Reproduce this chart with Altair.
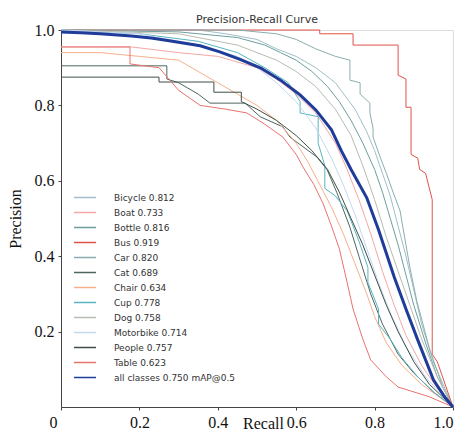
import altair as alt
import pandas as pd

labels = ["Bicycle 0.812", "Boat 0.733", "Bottle 0.816", "Bus 0.919", "Car 0.820",
          "Cat 0.689", "Chair 0.634", "Cup 0.778", "Dog 0.758", "Motorbike 0.714",
          "People 0.757", "Table 0.623", "all classes 0.750 mAP@0.5"]
colors = ["#9fbfc9", "#f2a7a7", "#6e9e9e", "#e0524a", "#8aaeb0", "#4f6660", "#f5b08c",
          "#58b4c0", "#b7bdb0", "#c4d8f0", "#3f4f48", "#e8736e", "#1f3c9a"]

bicycle_r = [0, 0.35, 0.42, 0.5, 0.55, 0.6, 0.65, 0.7, 0.75, 0.78, 0.8, 0.82, 0.84, 0.86, 0.88, 0.9, 0.92, 0.95, 1.0]
bicycle_p = [1.0, 1.0, 0.99, 0.975, 0.95, 0.93, 0.9, 0.86, 0.79, 0.73, 0.68, 0.62, 0.56, 0.48, 0.4, 0.31, 0.22, 0.12, 0.0]
boat_r = [0, 0.07, 0.18, 0.3, 0.4, 0.5, 0.55, 0.6, 0.65, 0.7, 0.73, 0.76, 0.79, 0.82, 0.85, 0.88, 0.92, 0.96, 1.0]
boat_p = [0.955, 0.955, 0.955, 0.94, 0.93, 0.9, 0.87, 0.83, 0.78, 0.7, 0.63, 0.55, 0.46, 0.36, 0.27, 0.19, 0.11, 0.05, 0.0]
bottle_r = [0, 0.3, 0.45, 0.52, 0.56, 0.6, 0.64, 0.68, 0.71, 0.74, 0.77, 0.8, 0.82, 0.84, 0.86, 0.88, 0.9, 0.93, 0.96, 1.0]
bottle_p = [1.0, 0.995, 0.98, 0.96, 0.94, 0.92, 0.89, 0.85, 0.81, 0.76, 0.7, 0.63, 0.57, 0.5, 0.43, 0.35, 0.27, 0.17, 0.08, 0.0]
bus_r = [0, 0.66, 0.66, 0.745, 0.745, 0.86, 0.86, 0.88, 0.88, 0.893, 0.893, 0.91, 0.915, 0.93, 0.947, 0.947, 0.96, 1.0]
bus_p = [1.0, 1.0, 0.99, 0.99, 0.96, 0.96, 0.88, 0.87, 0.795, 0.795, 0.67, 0.66, 0.63, 0.62, 0.55, 0.14, 0.12, 0.0]
car_r = [0, 0.45, 0.55, 0.6, 0.65, 0.7, 0.737, 0.737, 0.763, 0.763, 0.788, 0.788, 0.796, 0.796, 0.814, 0.83, 0.847, 0.865, 0.89, 0.908, 0.941, 0.974, 1.0]
car_p = [1.0, 1.0, 0.99, 0.975, 0.95, 0.93, 0.92, 0.867, 0.86, 0.83, 0.806, 0.78, 0.74, 0.716, 0.663, 0.62, 0.57, 0.52, 0.37, 0.28, 0.151, 0.053, 0.0]
cat_r = [0, 0.27, 0.27, 0.3, 0.35, 0.38, 0.47, 0.508, 0.566, 0.584, 0.653, 0.679, 0.704, 0.737, 0.76, 0.79, 0.82, 0.86, 0.9, 0.95, 1.0]
cat_p = [0.905, 0.905, 0.87, 0.86, 0.83, 0.806, 0.806, 0.77, 0.743, 0.716, 0.663, 0.629, 0.568, 0.477, 0.4, 0.3, 0.22, 0.14, 0.09, 0.04, 0.0]
chair_r = [0, 0.1, 0.2, 0.3, 0.35, 0.4, 0.45, 0.5, 0.55, 0.6, 0.63, 0.66, 0.69, 0.72, 0.75, 0.78, 0.8, 0.83, 0.87, 0.92, 1.0]
chair_p = [0.94, 0.94, 0.93, 0.92, 0.89, 0.86, 0.83, 0.8, 0.76, 0.7, 0.65, 0.59, 0.53, 0.46, 0.38, 0.3, 0.24, 0.17, 0.11, 0.06, 0.0]
cup_r = [0, 0.2, 0.35, 0.45, 0.52, 0.58, 0.61, 0.61, 0.656, 0.656, 0.673, 0.673, 0.7, 0.73, 0.76, 0.783, 0.783, 0.81, 0.81, 0.84, 0.87, 0.91, 0.95, 1.0]
cup_p = [1.0, 0.99, 0.97, 0.94, 0.9, 0.86, 0.81, 0.78, 0.77, 0.70, 0.64, 0.58, 0.56, 0.52, 0.44, 0.37, 0.33, 0.26, 0.22, 0.18, 0.13, 0.08, 0.04, 0.0]
dog_r = [0, 0.3, 0.45, 0.55, 0.6, 0.65, 0.7, 0.74, 0.77, 0.8, 0.83, 0.86, 0.89, 0.92, 0.96, 1.0]
dog_p = [1.0, 0.99, 0.96, 0.92, 0.89, 0.85, 0.79, 0.72, 0.64, 0.55, 0.45, 0.36, 0.27, 0.18, 0.08, 0.0]
motorbike_r = [0, 0.2, 0.35, 0.45, 0.5, 0.55, 0.6, 0.65, 0.69, 0.72, 0.75, 0.78, 0.81, 0.84, 0.88, 0.93, 1.0]
motorbike_p = [1.0, 0.99, 0.96, 0.93, 0.9, 0.86, 0.81, 0.74, 0.66, 0.59, 0.51, 0.42, 0.33, 0.25, 0.16, 0.08, 0.0]
people_r = [0, 0.25, 0.25, 0.39, 0.39, 0.46, 0.46, 0.5, 0.55, 0.6, 0.64, 0.68, 0.71, 0.74, 0.77, 0.8, 0.83, 0.86, 0.9, 0.94, 1.0]
people_p = [0.875, 0.875, 0.862, 0.862, 0.835, 0.835, 0.81, 0.79, 0.76, 0.72, 0.68, 0.63, 0.57, 0.5, 0.43, 0.35, 0.27, 0.2, 0.12, 0.06, 0.0]
table_r = [0, 0.176, 0.176, 0.25, 0.3, 0.355, 0.42, 0.474, 0.52, 0.566, 0.6, 0.617, 0.645, 0.668, 0.69, 0.71, 0.73, 0.745, 0.77, 0.79, 0.83, 0.86, 0.94, 1.0]
table_p = [0.955, 0.955, 0.91, 0.9, 0.84, 0.8, 0.79, 0.78, 0.75, 0.716, 0.67, 0.637, 0.59, 0.541, 0.48, 0.42, 0.33, 0.26, 0.18, 0.125, 0.08, 0.053, 0.027, 0.0]
all_r = [0, 0.05, 0.1, 0.18, 0.23, 0.28, 0.355, 0.405, 0.455, 0.51, 0.56, 0.61, 0.65, 0.69, 0.715, 0.74, 0.78, 0.81, 0.85, 0.88, 0.91, 0.95, 0.98, 1.0]
all_p = [0.995, 0.993, 0.99, 0.984, 0.979, 0.971, 0.958, 0.942, 0.923, 0.899, 0.867, 0.828, 0.788, 0.735, 0.68, 0.63, 0.555, 0.47, 0.345, 0.26, 0.178, 0.072, 0.025, 0.0]

series = [bicycle_r, bicycle_p, boat_r, boat_p, bottle_r, bottle_p, bus_r, bus_p, car_r, car_p,
          cat_r, cat_p, chair_r, chair_p, cup_r, cup_p, dog_r, dog_p, motorbike_r, motorbike_p,
          people_r, people_p, table_r, table_p, all_r, all_p]

rows = []
for i, lab in enumerate(labels):
    rs, ps = series[2 * i], series[2 * i + 1]
    for j, (r, p) in enumerate(zip(rs, ps)):
        rows.append({"label": lab, "recall": r, "precision": p, "idx": j, "all": i == 12})
df = pd.DataFrame(rows)

x_axis = alt.Axis(
    values=[0, 0.2, 0.4, 0.6, 0.8, 1.0],
    labelExpr="datum.value == 0 ? '0' : format(datum.value, '.1f')",
    labelOffset={"condition": {"test": "datum.value == 0", "value": -12}, "value": 0},
    grid=False, tickSize=3, labelPadding=4, titlePadding=-15,
    labelFont="Liberation Serif", labelFontSize=16, labelColor="#111",
    titleFont="Liberation Serif", titleFontSize=16, titleFontWeight="normal", titleColor="#111",
    titleX=202,
    domainColor="#444", tickColor="#444",
)
y_axis = alt.Axis(
    values=[0.2, 0.4, 0.6, 0.8, 1.0], format=".1f",
    grid=False, tickSize=3, labelPadding=4, titlePadding=11,
    labelFont="Liberation Serif", labelFontSize=16, labelColor="#111",
    titleFont="Liberation Serif", titleFontSize=16, titleFontWeight="normal", titleColor="#111",
    domainColor="#444", tickColor="#444",
)

leg = alt.Legend(title=None, orient="none", legendX=12, legendY=160,
                 symbolType="stroke", symbolSize=484, symbolStrokeWidth=1.5,
                 labelFont="DejaVu Sans", labelFontSize=9, labelColor="#333",
                 labelOffset=17, clipHeight=15, rowPadding=0)
color = alt.Color("label:N", scale=alt.Scale(domain=labels, range=colors), legend=leg)

base = alt.Chart(df).encode(
    x=alt.X("recall:Q", title="Recall", scale=alt.Scale(domain=[0, 1], nice=False), axis=x_axis),
    y=alt.Y("precision:Q", title="Precision", scale=alt.Scale(domain=[0, 1], nice=False), axis=y_axis),
    color=color,
    order="idx:Q",
)

classes = base.transform_filter("!datum.all").mark_line(interpolate="linear", strokeWidth=1)
mean = base.transform_filter("datum.all").mark_line(interpolate="linear", strokeWidth=3)

chart = alt.layer(classes, mean).properties(
    width=392, height=377,
    autosize=alt.AutoSizeParams(type="none"),
    padding={"left": 53, "top": 22, "right": 4, "bottom": 27},
    title=alt.Title("Precision-Recall Curve", font="DejaVu Sans", fontSize=11,
                    fontWeight="normal", color="#333", offset=-3),
).configure_view(stroke="#555", strokeWidth=1).configure(background="white")

chart.save("out.html", embed_options={"renderer": "svg", "actions": False})
